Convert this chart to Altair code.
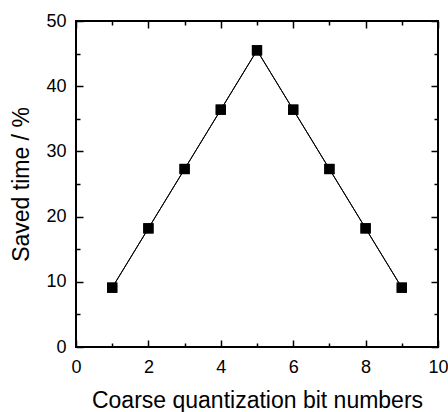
import altair as alt
import pandas as pd

bits = [1, 2, 3, 4, 5, 6, 7, 8, 9]
saved = [9.1, 18.2, 27.3, 36.4, 45.5, 36.4, 27.3, 18.2, 9.1]

x_major = [0, 2, 4, 6, 8, 10]
x_minor = [1, 3, 5, 7, 9]
y_major = [0, 10, 20, 30, 40, 50]
y_minor = [5, 15, 25, 35, 45]

W, H = 362, 326
FONT = "Liberation Sans"
MAJ, MIN = 7, 4

df = pd.DataFrame({"bits": bits, "saved": saved})
xs = alt.Scale(domain=[0, 10], nice=False, zero=False)
ys = alt.Scale(domain=[0, 50], nice=False, zero=False)

common = dict(domain=False, grid=False, ticks=True, tickColor="black", tickWidth=1.5)


def plain_axis(orient, vals, size):
    return alt.Axis(orient=orient, values=vals, tickSize=size, offset=-size,
                    labels=False, title=None, **common)


xaxis = alt.Axis(orient="bottom", values=x_major, tickSize=MAJ, offset=-MAJ,
                 labelFontSize=18, labelFont=FONT, labelColor="black", labelPadding=11,
                 title="Coarse quantization bit numbers", titleFont=FONT, titleFontSize=23,
                 titleFontWeight="normal", titleColor="black", titlePadding=13,
                 labelFlush=False, **common)
yaxis = alt.Axis(orient="left", values=y_major, tickSize=MAJ, offset=-MAJ,
                 labelFontSize=18, labelFont=FONT, labelColor="black", labelPadding=10,
                 title="Saved time / %", titleFont=FONT, titleFontSize=23,
                 titleFontWeight="normal", titleColor="black", titlePadding=12, **common)

line = alt.Chart(df).mark_line(color="black", strokeWidth=1).encode(
    x=alt.X("bits:Q", scale=xs, axis=xaxis),
    y=alt.Y("saved:Q", scale=ys, axis=yaxis),
)
pts = alt.Chart(df).mark_square(color="black", size=105, opacity=1).encode(
    x=alt.X("bits:Q", scale=xs, axis=plain_axis("top", x_major, MAJ)),
    y=alt.Y("saved:Q", scale=ys, axis=plain_axis("right", y_major, MAJ)),
)
minor_a = alt.Chart(df).mark_line(color="black", strokeWidth=1).encode(
    x=alt.X("bits:Q", scale=xs, axis=plain_axis("bottom", x_minor, MIN)),
    y=alt.Y("saved:Q", scale=ys, axis=plain_axis("left", y_minor, MIN)),
)
minor_b = alt.Chart(df).mark_square(color="black", size=105, opacity=1).encode(
    x=alt.X("bits:Q", scale=xs, axis=plain_axis("top", x_minor, MIN)),
    y=alt.Y("saved:Q", scale=ys, axis=plain_axis("right", y_minor, MIN)),
)

chart = alt.layer(line, minor_a, pts, minor_b).resolve_axis(
    x="independent", y="independent"
).properties(
    width=W, height=H,
    autosize=alt.AutoSizeParams(type="none"),
    padding={"left": 76, "top": 21, "right": 10, "bottom": 65},
).configure_view(stroke="black", strokeWidth=2)

chart.save("out.html", embed_options={"renderer": "svg", "actions": False})
